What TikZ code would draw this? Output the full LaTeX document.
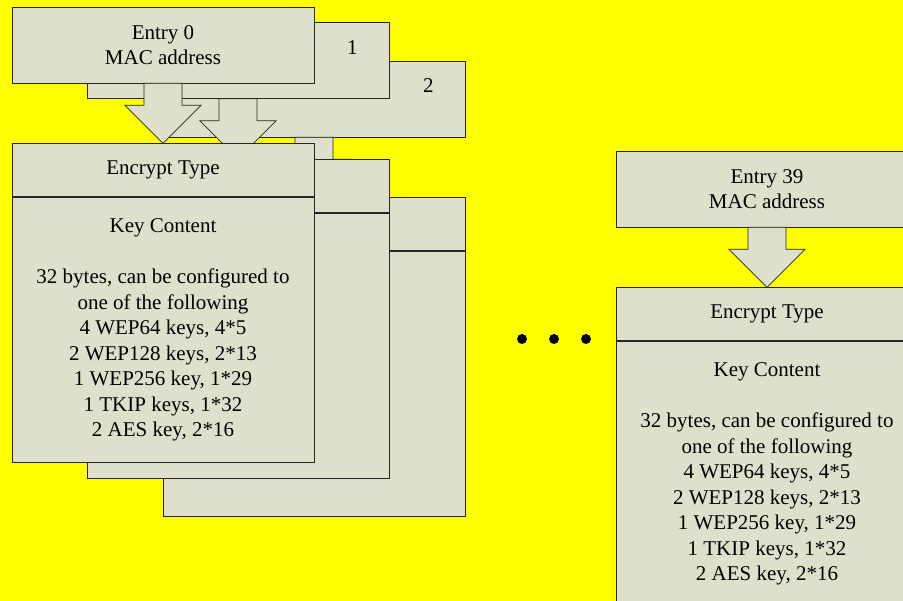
\documentclass[tikz,border=0pt]{standalone}
\usepackage{fontspec}
\setmainfont{Liberation Serif}
\usetikzlibrary{positioning}
\definecolor{panel}{RGB}{222,224,204}
\definecolor{backdrop}{RGB}{255,255,0}
\tikzset{
  macbox/.style={draw=black!85, line width=0.7pt, fill=panel, minimum width=302pt,
    minimum height=76pt, inner sep=0pt, align=center},
  typebox/.style={macbox, minimum height=53pt},
  keybox/.style={macbox, minimum height=265pt},
  blockarrow/.style={draw=black!85, line width=0.7pt, fill=panel, line join=miter},
}
\newcommand{\entryarrow}[2]{%
  \filldraw[blockarrow] ([xshift=-19pt]#1.south) |- ([xshift=-38pt,yshift=38pt]#2.north)
    -- (#2.north) -- ([xshift=38pt,yshift=38pt]#2.north) -| ([xshift=19pt]#1.south) -- cycle;}
\newcommand{\keylines}{Key Content\\[25.5pt]32 bytes, can be configured to\\one of the following\\
  4 WEP64 keys, 4*5\\2 WEP128 keys, 2*13\\1 WEP256 key, 1*29\\1 TKIP keys, 1*32\\2 AES key, 2*16}
\begin{document}
\begin{tikzpicture}[x=1pt, y=-1pt, font=\rmfamily\fontsize{21}{25.5}\selectfont]
  \fill[backdrop] (0,0) rectangle (903,601);
  \clip (0,0) rectangle (903,601);

  % entry 2, at the back
  \node[macbox] (mac2) at (314,99) {};
  \node (num2) at ([xshift=-37pt,yshift=-25pt]mac2.north east) {2};
  \node[typebox, below=60pt of mac2] (type2) {};
  \node[keybox, below=0pt of type2] (key2) {};
  \entryarrow{mac2}{type2}

  % entry 1
  \node[macbox] (mac1) at (238,60.5) {};
  \node (num1) at ([xshift=-37pt,yshift=-25pt]mac1.north east) {1};
  \node[typebox, below=60pt of mac1] (type1) {};
  \node[keybox, below=0pt of type1] (key1) {};
  \entryarrow{mac1}{type1}

  % entry 0, in front
  \node[macbox] (mac0) at (163,45) {Entry 0\\MAC address};
  \node[typebox, below=60pt of mac0] (type0) {Encrypt Type};
  \node[keybox, below=0pt of type0] (key0) {\keylines};
  \entryarrow{mac0}{type0}

  % dots
  \foreach \x in {522,554,586}
    \fill (\x,339) circle [radius=5];

  % entry 39
  \node[macbox] (mac39) at (767,189) {Entry 39\\MAC address};
  \node[typebox, below=60pt of mac39] (type39) {Encrypt Type};
  \node[keybox, below=0pt of type39] (key39) {\keylines};
  \entryarrow{mac39}{type39}
\end{tikzpicture}
\end{document}
